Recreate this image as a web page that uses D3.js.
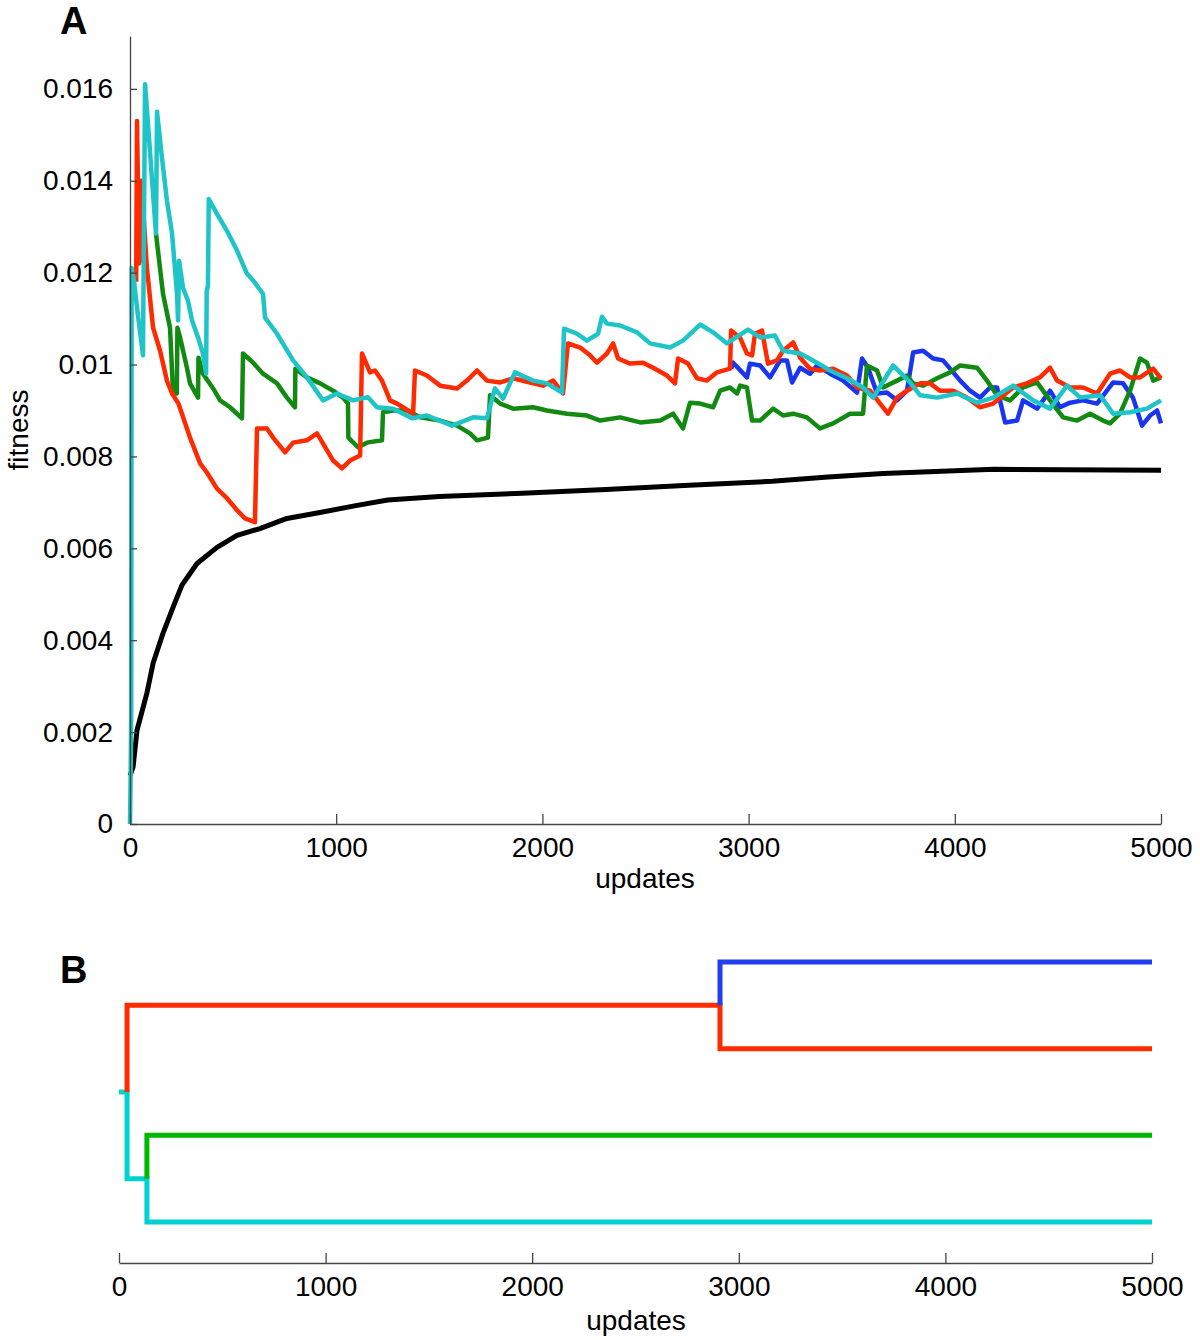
<!DOCTYPE html>
<html>
<head>
<meta charset="utf-8">
<script src="https://d3js.org/d3.v7.min.js"></script>
<style>
  body { margin: 0; background: #fff; }
  text { font-family: "Liberation Sans", Arial, sans-serif; fill: #000; }
</style>
</head>
<body>
<svg id="chart" width="1200" height="1340"></svg>
<script>
// DATA ========================================================
// panel A: [update, fitness]
const black = [[0,0.00105],[15,0.00124],[34,0.00204],[82,0.00285],[112,0.0035],[160,0.00415],[209,0.00472],
  [252,0.0052],[325,0.00567],[422,0.00602],[519,0.00628],[630,0.00643],[761,0.00665],[921,0.00678],
  [1095,0.00693],[1250,0.00705],[1500,0.00713],[1903,0.0072],[2308,0.00728],[2711,0.00737],[3114,0.00746],
  [3385,0.00755],[3652,0.00763],[4190,0.00772],[5000,0.0077]];

const cyan = [[0,0],[3,0.001],[6,0.0026],[8,0.0121],[20,0.0118],[35,0.0112],[63,0.0102],[73,0.0161],
  [126,0.01285],[131,0.0155],[155,0.0145],[179,0.01357],[204,0.01285],[228,0.01154],[233,0.01096],
  [238,0.01226],[257,0.01167],[281,0.01139],[301,0.01096],[330,0.01059],[354,0.01024],[369,0.0098],
  [372,0.0116],[378,0.0117],[382,0.0136],[422,0.01328],[470,0.01291],[519,0.01248],[567,0.01198],
  [597,0.01183],[645,0.01154],[655,0.01102],[713,0.01067],[791,0.01009],[858,0.00972],[936,0.00922],
  [1004,0.00937],[1082,0.00922],[1154,0.00929],[1198,0.00907],[1276,0.00904],[1368,0.00883],[1440,0.00889],
  [1562,0.00867],[1664,0.00885],[1731,0.00883],[1770,0.00948],[1809,0.00926],[1867,0.00983],[1955,0.00965],
  [2022,0.00959],[2095,0.00939],[2105,0.01078],[2168,0.01067],[2216,0.01052],[2270,0.01067],[2289,0.01104],
  [2313,0.01089],[2377,0.01085],[2459,0.0107],[2522,0.01046],[2619,0.01037],[2682,0.01052],[2765,0.01087],
  [2828,0.0107],[2895,0.01046],[2997,0.01076],[3056,0.01059],[3128,0.01063],[3167,0.0103],[3250,0.01024],
  [3332,0.01004],[3395,0.00987],[3477,0.0097],[3555,0.0095],[3604,0.00928],[3701,0.00998],[3783,0.00961],
  [3832,0.00933],[3914,0.00928],[4011,0.00937],[4108,0.00917],[4186,0.00928],[4283,0.00954],[4380,0.00922],
  [4462,0.00904],[4544,0.00954],[4608,0.00928],[4705,0.00933],[4768,0.00893],[4850,0.00896],[4932,0.00904],
  [5000,0.00922]];

const red = [[30,0.0118],[34,0.0153],[44,0.0122],[52,0.0123],[55,0.0140],[82,0.0121],[112,0.0108],
  [146,0.0103],[179,0.00965],[204,0.00937],[235,0.00915],[291,0.00841],[340,0.00785],[373,0.00765],
  [422,0.0073],[470,0.00709],[519,0.00683],[558,0.00665],[606,0.00657],[616,0.00861],[664,0.00861],
  [694,0.00841],[752,0.00809],[791,0.0083],[858,0.00835],[907,0.0085],[985,0.00791],[1028,0.00774],
  [1067,0.00791],[1116,0.00802],[1125,0.01024],[1164,0.00983],[1188,0.00987],[1222,0.00965],[1261,0.00922],
  [1295,0.00915],[1324,0.00907],[1373,0.00893],[1382,0.00987],[1440,0.00976],[1504,0.00954],[1586,0.00948],
  [1634,0.00965],[1683,0.00987],[1731,0.00965],[1795,0.00961],[1858,0.0097],[1940,0.00961],[2003,0.00954],
  [2052,0.00965],[2100,0.00937],[2124,0.01046],[2183,0.01037],[2231,0.0102],[2265,0.01004],[2313,0.01024],
  [2343,0.01046],[2367,0.01013],[2425,0.01002],[2488,0.01004],[2537,0.00993],[2604,0.00976],[2643,0.00959],
  [2658,0.01013],[2706,0.01002],[2750,0.0097],[2798,0.00965],[2847,0.00983],[2910,0.00991],[2915,0.01074],
  [2958,0.01059],[2992,0.01024],[3017,0.0102],[3031,0.01067],[3065,0.01074],[3094,0.01002],[3138,0.01009],
  [3167,0.0103],[3216,0.01048],[3250,0.01015],[3298,0.00991],[3346,0.00987],[3410,0.00991],[3477,0.00976],
  [3526,0.0095],[3589,0.00943],[3638,0.00915],[3676,0.00893],[3720,0.00928],[3768,0.00943],[3832,0.00959],
  [3880,0.00959],[3928,0.00943],[3992,0.00943],[4059,0.00928],[4122,0.00907],[4186,0.00915],[4283,0.0095],
  [4350,0.00959],[4413,0.00972],[4462,0.00993],[4496,0.00965],[4559,0.0095],[4622,0.0095],[4690,0.00937],
  [4753,0.0098],[4801,0.00987],[4850,0.00972],[4898,0.00972],[4962,0.00991],[5000,0.0097]];

const blue = [[2915,0.00991],[2925,0.01004],[2992,0.00972],[3007,0.01002],[3056,0.00998],[3104,0.00972],
  [3153,0.01009],[3186,0.01009],[3211,0.00961],[3250,0.00993],[3298,0.0098],[3332,0.00998],[3395,0.0098],
  [3458,0.00965],[3526,0.00939],[3550,0.01013],[3579,0.00993],[3623,0.00937],[3671,0.00939],[3720,0.00922],
  [3768,0.00943],[3798,0.01026],[3846,0.0103],[3895,0.01013],[3943,0.01009],[3977,0.00991],[4026,0.00965],
  [4074,0.00943],[4122,0.00928],[4171,0.0095],[4205,0.0095],[4244,0.00874],[4302,0.00878],[4331,0.00922],
  [4399,0.00904],[4462,0.00943],[4510,0.00907],[4559,0.00917],[4622,0.00922],[4690,0.00915],[4768,0.00961],
  [4816,0.00959],[4864,0.00928],[4908,0.00867],[4947,0.00889],[4981,0.009],[5000,0.00872]];

const green = [[126,0.01285],[160,0.01154],[194,0.0108],[209,0.00937],[227,0.00937],[230,0.0108],
  [243,0.01059],[276,0.00993],[291,0.00959],[330,0.00928],[332,0.01015],[354,0.0098],[403,0.00948],
  [437,0.00922],[485,0.00907],[543,0.00883],[548,0.01024],[597,0.01004],[645,0.0098],[713,0.00959],
  [761,0.00928],[800,0.00907],[802,0.00991],[858,0.00972],[922,0.00959],[985,0.00943],[1033,0.00928],
  [1057,0.00915],[1059,0.00841],[1106,0.0082],[1149,0.0083],[1222,0.00835],[1227,0.00896],[1276,0.009],
  [1343,0.009],[1407,0.00885],[1504,0.00878],[1586,0.00867],[1649,0.0085],[1683,0.00835],[1736,0.00841],
  [1746,0.00933],[1795,0.00915],[1858,0.00904],[1955,0.00907],[2022,0.009],[2119,0.00893],[2216,0.00889],
  [2280,0.00878],[2377,0.00885],[2474,0.00874],[2571,0.00878],[2634,0.00893],[2682,0.00861],[2716,0.00917],
  [2765,0.00915],[2828,0.00907],[2862,0.00943],[2910,0.0095],[2944,0.00937],[2959,0.00954],[2992,0.0095],
  [3017,0.00878],[3056,0.00878],[3119,0.00904],[3167,0.00889],[3216,0.00893],[3283,0.00885],[3346,0.00861],
  [3410,0.00872],[3492,0.00893],[3555,0.00893],[3574,0.00998],[3623,0.00987],[3652,0.0095],[3720,0.00965],
  [3768,0.00976],[3798,0.00959],[3846,0.00954],[3914,0.0097],[3977,0.00983],[4026,0.00998],[4108,0.00993],
  [4156,0.00965],[4205,0.00933],[4268,0.00922],[4331,0.0095],[4399,0.00961],[4462,0.00922],[4525,0.00885],
  [4593,0.00878],[4656,0.00893],[4719,0.00878],[4753,0.00872],[4801,0.00893],[4850,0.00943],[4898,0.01013],
  [4932,0.01004],[4962,0.00965],[5000,0.00972]];

const yTicks = [0, 0.002, 0.004, 0.006, 0.008, 0.01, 0.012, 0.014, 0.016];
const xTicks = [0, 1000, 2000, 3000, 4000, 5000];

// panel B: lineage tree (leaf order top to bottom: blue, red, green, cyan)
const leaves = ["blue", "red", "green", "cyan"];
const splitRoot = 39;     // red / cyan split
const splitRed = 2909;    // blue / red split
const splitCyan = 135;    // green / cyan split

const colA = { black: "#000000", red: "#ff2a00", green: "#128a12", blue: "#1a35f0", cyan: "#1ec4c8" };
const colB = { red: "#ff2b00", green: "#00b800", blue: "#1f3ff0", cyan: "#00d2d2" };

// PANEL A =====================================================
const svg = d3.select("#chart");
const xA = d3.scaleLinear().domain([0, 5000]).range([130, 1161]);
const yA = d3.scaleLinear().domain([0, 0.01715]).range([824, 36]);

const line = d3.line().x(d => xA(d[0])).y(d => yA(d[1]));

const series = [["black", black], ["blue", blue], ["green", green], ["red", red], ["cyan", cyan]];
svg.append("g").selectAll("path")
  .data(series)
  .join("path")
  .attr("d", d => line(d[1]))
  .attr("fill", "none")
  .attr("stroke", d => colA[d[0]])
  .attr("stroke-width", d => d[0] === "black" ? 5 : 4.5)
  .attr("stroke-linejoin", "round");

const axY = svg.append("g").attr("transform", "translate(130,0)")
  .call(d3.axisLeft(yA).tickValues(yTicks).tickFormat(d3.format("~g"))
    .tickSizeInner(-7).tickSizeOuter(0).tickPadding(17));
const axX = svg.append("g").attr("transform", "translate(0,824)")
  .call(d3.axisBottom(xA).tickValues(xTicks).tickFormat(d3.format("d"))
    .tickSizeInner(-10).tickSizeOuter(0).tickPadding(13));

[axY, axX].forEach(ax => {
  ax.select(".domain").attr("stroke", "#444").attr("stroke-width", 1.3);
  ax.selectAll(".tick line").attr("stroke", "#444").attr("stroke-width", 1.3);
  ax.selectAll(".tick text").attr("font-size", 28).attr("font-family", "Liberation Sans, Arial, sans-serif")
    .attr("fill", "#000");
});

svg.append("text").attr("x", 645).attr("y", 888).attr("text-anchor", "middle")
  .attr("font-size", 28).text("updates");
svg.append("text").attr("transform", "translate(28,430) rotate(-90)").attr("text-anchor", "middle")
  .attr("font-size", 28).text("fitness");
svg.append("text").attr("x", 60).attr("y", 34).attr("font-size", 38).attr("font-weight", "bold").text("A");

// PANEL B =====================================================
const xB = d3.scaleLinear().domain([0, 5000]).range([119, 1152]);
const yB = d3.scalePoint().domain(leaves).range([962, 1222]);

const yRedNode = (yB("blue") + yB("red")) / 2;
const yCyanNode = (yB("green") + yB("cyan")) / 2;
const yRoot = (yRedNode + yCyanNode) / 2;

// each branch: colour, list of [update, y]
const branches = [
  ["cyan", [[0, yRoot], [splitRoot, yRoot], [splitRoot, yCyanNode], [splitCyan, yCyanNode], [splitCyan, yB("cyan")], [5000, yB("cyan")]]],
  ["green", [[splitCyan, yCyanNode], [splitCyan, yB("green")], [5000, yB("green")]]],
  ["red", [[splitRoot, yRoot], [splitRoot, yRedNode], [splitRed, yRedNode], [splitRed, yB("red")], [5000, yB("red")]]],
  ["blue", [[splitRed, yRedNode], [splitRed, yB("blue")], [5000, yB("blue")]]]
];

const lineB = d3.line().x(d => xB(d[0])).y(d => d[1]);
svg.append("g").selectAll("path")
  .data(branches)
  .join("path")
  .attr("d", d => lineB(d[1]))
  .attr("fill", "none")
  .attr("stroke", d => colB[d[0]])
  .attr("stroke-width", 5)
  .attr("stroke-linejoin", "miter");

const axB = svg.append("g").attr("transform", "translate(0,1263)")
  .call(d3.axisBottom(xB).tickValues(xTicks).tickFormat(d3.format("d"))
    .tickSizeInner(-10).tickSizeOuter(0).tickPadding(13));
axB.select(".domain").attr("stroke", "#444").attr("stroke-width", 1.3);
axB.selectAll(".tick line").attr("stroke", "#444").attr("stroke-width", 1.3);
axB.selectAll(".tick text").attr("font-size", 28).attr("font-family", "Liberation Sans, Arial, sans-serif")
  .attr("fill", "#000");

svg.append("text").attr("x", 636).attr("y", 1330).attr("text-anchor", "middle")
  .attr("font-size", 28).text("updates");
svg.append("text").attr("x", 60).attr("y", 983).attr("font-size", 38).attr("font-weight", "bold").text("B");
</script>
</body>
</html>
